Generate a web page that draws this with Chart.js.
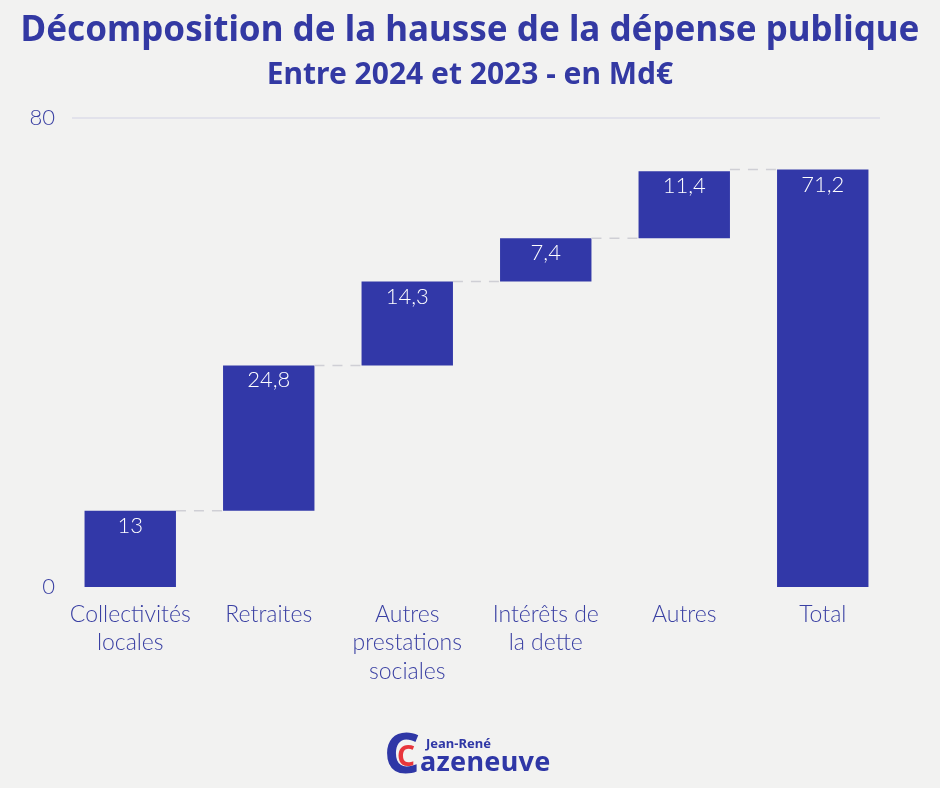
<!DOCTYPE html>
<html>
<head>
<meta charset="utf-8">
<script src="https://cdn.jsdelivr.net/npm/chart.js@4"></script>
<style>
  body { margin: 0; background: #f2f2f1; }
  #wrap { position: relative; width: 940px; height: 788px; }
  #logo { position: absolute; left: 384px; top: 728px; height: 56px; width: 200px; font-family: "Noto Sans", sans-serif; font-weight: 700; }
  #logo .bigc { position: absolute; left: 0; top: -5px; font-size: 56px; color: #2f37a6; line-height: 1; }
  #logo .smallc { position: absolute; left: 13px; top: 13px; font-size: 28px; color: #e8363c; line-height: 1; }
  #logo .first { position: absolute; left: 42px; top: 9px; font-size: 13px; color: #2f37a6; line-height: 1; }
  #logo .last { position: absolute; left: 36px; top: 19px; font-size: 27px; color: #2f37a6; line-height: 1; letter-spacing: 0.3px; }
</style>
</head>
<body>
<div id="wrap">
  <canvas id="chart" width="940" height="788"></canvas>
  <div id="logo">
    <span class="bigc">C</span><span class="smallc">C</span>
    <span class="first">Jean-René</span>
    <span class="last">azeneuve</span>
  </div>
</div>
<script>
const categories = [["Collectivités", "locales"], "Retraites", ["Autres", "prestations", "sociales"], ["Intérêts de", "la dette"], "Autres", "Total"];
const increments = [13, 24.8, 14.3, 7.4, 11.4];
const total = 71.2;
const valueLabels = ["13", "24,8", "14,3", "7,4", "11,4", "71,2"];
const yTicks = [0, 80];

// floating bars: [start, end] built from the increments
const ranges = [];
let running = 0;
increments.forEach(v => {
  ranges.push([running, running + v]);
  running += v;
});
ranges.push([0, total]);

const blue = '#3238a8';
const textBlue = '#3a40a3';
const labelFont = 'Lato, "Noto Sans", sans-serif';

const waterfallExtras = {
  id: 'waterfallExtras',
  beforeDatasetsDraw(chart) {
    // light gridline at the top tick, inset like the original
    const ctx = chart.ctx;
    const py = chart.scales.y.getPixelForValue(80);
    ctx.save();
    ctx.strokeStyle = '#dcdde8';
    ctx.lineWidth = 1.5;
    ctx.beginPath();
    ctx.moveTo(chart.chartArea.left + 11, py);
    ctx.lineTo(chart.chartArea.right - 12, py);
    ctx.stroke();
    ctx.restore();
  },
  afterDatasetsDraw(chart) {
    const ctx = chart.ctx;
    const meta = chart.getDatasetMeta(0);
    const y = chart.scales.y;
    // dashed connectors between bars
    ctx.save();
    ctx.strokeStyle = '#cfcfd5';
    ctx.lineWidth = 1.5;
    ctx.setLineDash([10, 8]);
    for (let i = 0; i < meta.data.length - 1; i++) {
      const a = meta.data[i], b = meta.data[i + 1];
      const level = i < meta.data.length - 2 ? ranges[i][1] : ranges[i + 1][1];
      const py = y.getPixelForValue(level);
      ctx.beginPath();
      ctx.moveTo(a.x + a.width / 2, py);
      ctx.lineTo(b.x - b.width / 2, py);
      ctx.stroke();
    }
    ctx.restore();
    // value labels inside bars
    ctx.save();
    ctx.fillStyle = '#ffffff';
    ctx.font = '300 22px ' + labelFont;
    ctx.textAlign = 'center';
    ctx.textBaseline = 'middle';
    meta.data.forEach((bar, i) => {
      const top = Math.min(bar.y, bar.base);
      ctx.fillText(valueLabels[i], bar.x, top + 15);
    });
    ctx.restore();
  }
};

new Chart(document.getElementById('chart'), {
  type: 'bar',
  data: {
    labels: categories,
    datasets: [{
      data: ranges,
      backgroundColor: blue,
      borderSkipped: false,
      barPercentage: 0.66,
      categoryPercentage: 1.0
    }]
  },
  options: {
    responsive: false,
    animation: false,
    layout: { padding: 0 },
    plugins: {
      legend: { display: false },
      tooltip: { enabled: false },
      title: {
        display: true,
        text: 'Décomposition de la hausse de la dépense publique',
        color: '#3339a3',
        font: { family: '"Noto Sans", sans-serif', size: 35, weight: 'bold' },
        padding: { top: 10, bottom: 5 }
      },
      subtitle: {
        display: true,
        text: 'Entre 2024 et 2023 - en Md€',
        color: '#3339a3',
        font: { family: '"Noto Sans", sans-serif', size: 30, weight: 'bold' },
        padding: { top: 0, bottom: 25 }
      }
    },
    scales: {
      x: {
        grid: { display: false },
        border: { display: false },
        ticks: {
          color: textBlue,
          font: { family: labelFont, size: 23, weight: '300', lineHeight: 1.24 },
          maxRotation: 0,
          autoSkip: false,
          padding: 5
        },
        afterFit(scale) { scale.height = 201; }
      },
      y: {
        min: 0,
        max: 80,
        afterBuildTicks(scale) { scale.ticks = yTicks.map(v => ({ value: v })); },
        grid: { display: false, drawTicks: false },
        border: { display: false },
        ticks: {
          color: textBlue,
          font: { family: labelFont, size: 22, weight: '300' },
          padding: 6
        },
        afterFit(scale) { scale.width = 61; }
      },
      // empty right axis, only keeps the right margin
      yRight: {
        position: 'right',
        display: true,
        grid: { display: false },
        border: { display: false },
        ticks: { display: false },
        afterFit(scale) { scale.width = 48; }
      }
    }
  },
  plugins: [waterfallExtras]
});
</script>
</body>
</html>
